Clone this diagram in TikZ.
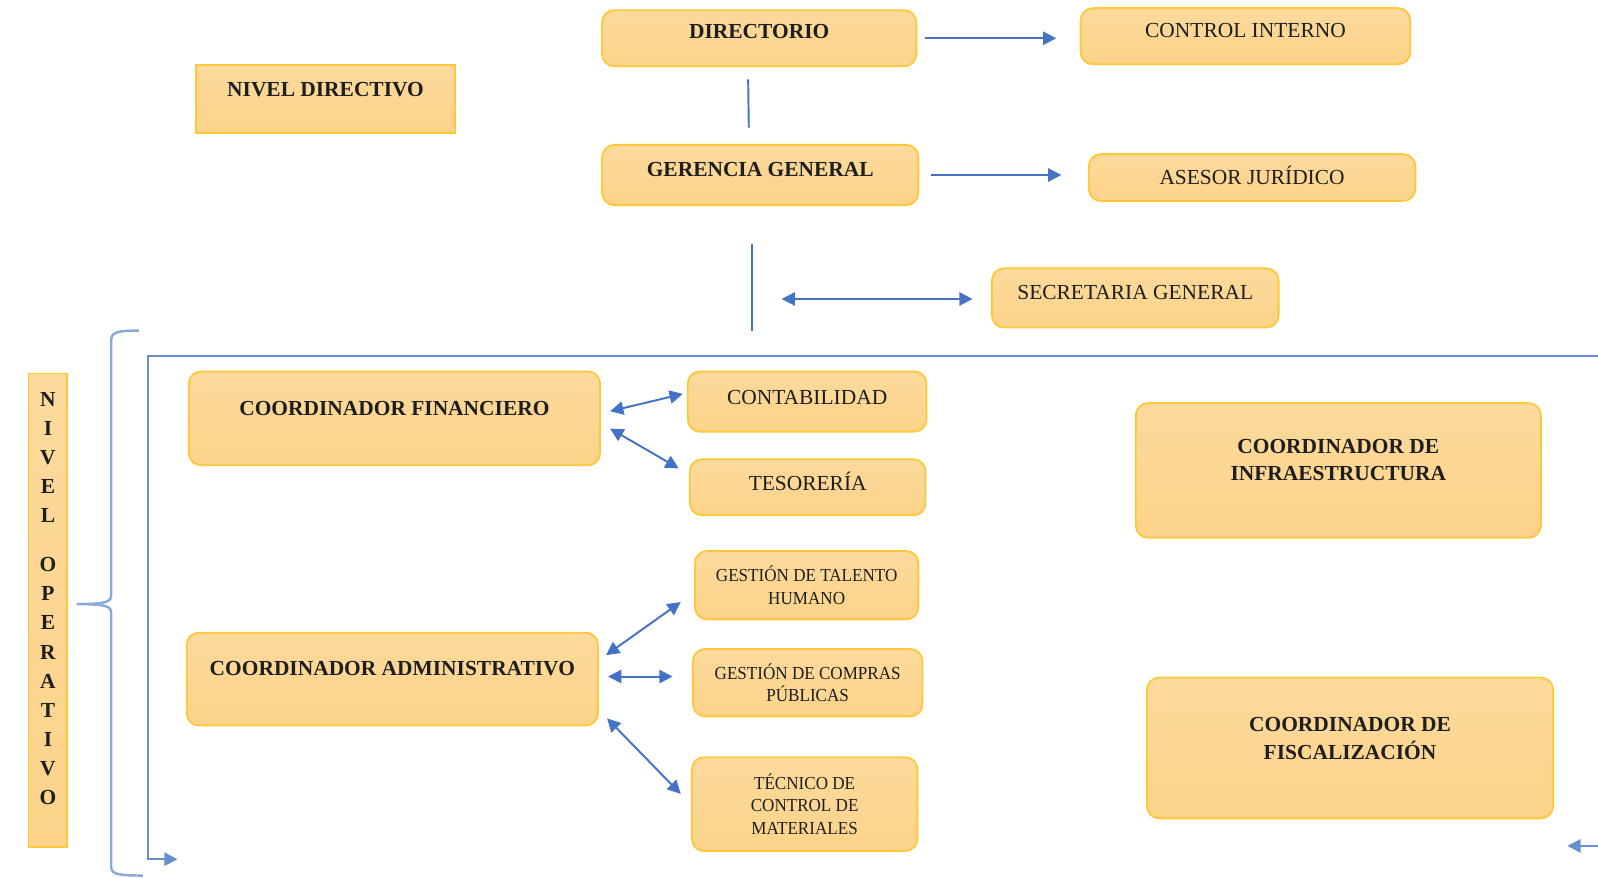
\documentclass[tikz,border=0pt]{standalone}
\usepackage{fontspec}
\setmainfont{Liberation Serif}
\newfontfamily\narrowserif[FakeStretch=0.93]{Liberation Serif}
\usepackage{xcolor}
\usepackage{tikz}
\usetikzlibrary{arrows.meta}

\definecolor{boxfill}{HTML}{FCD389}
\definecolor{boxtop}{HTML}{FCDA9C}
\definecolor{boxedge}{HTML}{FFC83A}
\definecolor{linkblue}{HTML}{4472C4}
\definecolor{inkdark}{HTML}{1E1E1E}

\tikzset{
	orgbox/.style={draw=boxedge, line width=0.9pt, rounded corners=6pt,
		top color=boxtop, bottom color=boxfill, text=inkdark, align=center, inner sep=0pt},
	levelbox/.style={orgbox, sharp corners, font=\fontsize{10.5}{14.25}\selectfont\bfseries},
	headbox/.style={orgbox, font=\fontsize{10.5}{13.5}\selectfont\bfseries},
	sidebox/.style={orgbox, font=\fontsize{10.5}{13.5}\selectfont},
	taskbox/.style={orgbox, font=\narrowserif\fontsize{9}{10.9}\selectfont},
	link/.style={draw=linkblue, line width=0.95pt},
	framelink/.style={link, draw=linkblue!80},
	bracestroke/.style={draw=linkblue!62, line width=1.2pt},
	oneway/.style={link, -{Triangle[length=6.5pt,width=6.5pt]}},
	twoway/.style={link, {Triangle[length=6.5pt,width=6.5pt]}-{Triangle[length=6.5pt,width=6.5pt]}}
}

\begin{document}
\begin{tikzpicture}[x=0.5pt, y=-0.5pt]
		\useasboundingbox (0,0) rectangle (1566,860.4);

		% nivel directivo
		\node[levelbox, minimum width=127pt, minimum height=33pt, text depth=9pt] (nivdir) at (319,97) {NIVEL DIRECTIVO};
		\node[headbox, minimum width=154pt, minimum height=27.5pt, text depth=6.5pt] (directorio) at (744,37.5) {DIRECTORIO};
		\node[sidebox, minimum width=161.5pt, minimum height=27.5pt, text depth=5.5pt] (control) at (1220.5,35.5) {CONTROL INTERNO};
		\node[headbox, minimum width=155pt, minimum height=29.5pt, text depth=5.5pt] (gerencia) at (745,171.5) {GERENCIA GENERAL};
		\node[sidebox, minimum width=160pt, minimum height=23pt, text depth=2.5pt] (asesor) at (1227,174) {ASESOR JURÍDICO};
		\node[sidebox, minimum width=140.5pt, minimum height=29pt, text depth=5pt] (secretaria) at (1112.5,292) {SECRETARIA GENERAL};

		\draw[link, shorten <=6pt, shorten >=8pt] ([xshift=-5.5pt]directorio.south) -- ([xshift=-5.5pt]gerencia.north);
		\draw[oneway, shorten <=4pt, shorten >=11.5pt] (directorio.east) -- (directorio.east -| control.west);
		\draw[oneway, shorten <=5.5pt, shorten >=13pt] (gerencia.east) -- (gerencia.east -| asesor.west);
		\coordinate (gerBot) at (737,324);
		\coordinate (gerMid) at (737,293);
		\draw[link, shorten <=18.5pt] ([xshift=-4pt]gerencia.south) -- (gerBot);
		\draw[twoway, shorten <=14.5pt, shorten >=9pt] (gerMid) -- (gerMid -| secretaria.west);

		% nivel operativo
		\node[levelbox, minimum width=19pt, minimum height=232pt, text depth=11.5pt] (nivop) at (47,598)
			{N\\I\\V\\E\\L\\[9.75pt]O\\P\\E\\R\\A\\T\\I\\V\\O};
		\draw[bracestroke] (136,324) .. controls (117,324) and (109,325) .. (109,333)
			-- (109,583) .. controls (109,590) and (104,592) .. (75,592)
			.. controls (104,592) and (109,594) .. (109,601)
			-- (109,850) .. controls (109,857) and (118,858) .. (140,858);

		\coordinate (frTR) at (1570,349);
		\coordinate (frTL) at (145,349);
		\coordinate (frBL) at (145,842);
		\coordinate (frBI) at (174,842);
		\coordinate (frBR) at (1570,829);
		\coordinate (frRI) at (1536,829);
		\draw[framelink, -{Triangle[length=6.5pt,width=6.5pt]}] (frTR) -- (frTL) -- (frBL) -- (frBI);
		\draw[framelink, -{Triangle[length=6.5pt,width=6.5pt]}] (frBR) -- (frRI);

		\node[headbox, minimum width=201.5pt, minimum height=46pt, text depth=10pt] (coordfin) at (386.5,410) {COORDINADOR FINANCIERO};
		\node[sidebox, minimum width=117pt, minimum height=29.5pt, text depth=4.5pt] (contab) at (791,393.5) {CONTABILIDAD};
		\node[sidebox, minimum width=115.5pt, minimum height=27.5pt, text depth=6pt] (tesoreria) at (791.5,477.5) {TESORERÍA};
		\draw[twoway] ([shift={(4.5pt,3.5pt)}]coordfin.east) -- ([shift={(-2pt,3.75pt)}]contab.west);
		\draw[twoway] ([shift={(4.5pt,-5pt)}]coordfin.east) -- ([shift={(-5pt,9.25pt)}]tesoreria.west);

		\node[headbox, minimum width=201.5pt, minimum height=45.5pt, text depth=10.5pt] (coordadm) at (384.5,665.5) {COORDINADOR ADMINISTRATIVO};
		\node[taskbox, minimum width=109.5pt, minimum height=33.5pt] (talento) at (790.5,573.5) {GESTIÓN DE TALENTO\\HUMANO};
		\node[taskbox, minimum width=112.5pt, minimum height=33pt] (compras) at (791.5,669) {GESTIÓN DE COMPRAS\\PÚBLICAS};
		\node[taskbox, minimum width=110.5pt, minimum height=46pt] (tecnico) at (788.5,788) {TÉCNICO DE\\CONTROL DE\\MATERIALES};
		\draw[twoway] ([shift={(3.5pt,11.75pt)}]coordadm.east) -- ([shift={(-6.5pt,-8.25pt)}]talento.west);
		\draw[twoway] ([shift={(4.5pt,1.25pt)}]coordadm.east) -- ([shift={(-9.5pt,3pt)}]compras.west);
		\draw[twoway] ([shift={(4pt,-19.25pt)}]coordadm.east) -- ([shift={(-5pt,5pt)}]tecnico.west);

		\node[headbox, minimum width=198.5pt, minimum height=66pt, text depth=10.5pt] (coordinf) at (1311.5,461) {COORDINADOR DE\\INFRAESTRUCTURA};
		\node[headbox, minimum width=199pt, minimum height=69pt, text depth=9.5pt] (coordfis) at (1323,733) {COORDINADOR DE\\FISCALIZACIÓN};
	\end{tikzpicture}
\end{document}
